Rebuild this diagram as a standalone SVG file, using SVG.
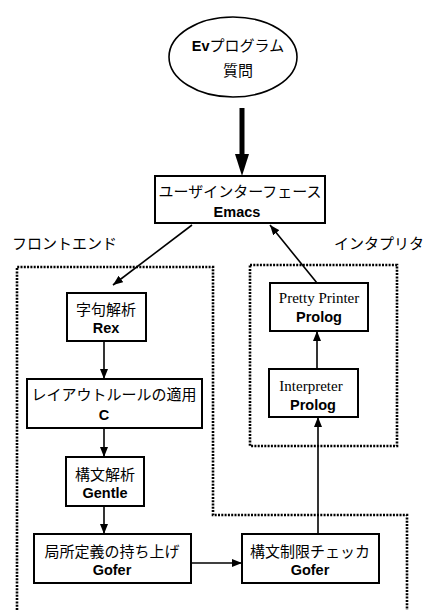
<svg xmlns="http://www.w3.org/2000/svg" width="433" height="610" viewBox="0 0 433 610">
<defs>
<marker id="ah" viewBox="0 0 10 8" refX="10" refY="4" markerWidth="10" markerHeight="8" markerUnits="userSpaceOnUse" orient="auto">
<path d="M0,0 L10,4 L0,8 Z" fill="#000"/>
</marker>
<style>
.box{fill:#fff;stroke:#000;stroke-width:2}
.ln{fill:none;stroke:#000;stroke-width:1.6}
.dot{fill:none;stroke:#000;stroke-width:2.6;stroke-dasharray:2 1.3}
.jp{font-family:"Noto Sans CJK JP","Noto Sans",sans-serif;font-size:15px;fill:#000}
.en{font-family:"Liberation Sans",Arial,sans-serif;font-weight:bold;font-size:14.5px;fill:#000}
.tm{font-family:"Liberation Serif","Times New Roman",serif;font-size:15px;fill:#000}
</style>
</defs>
<g id="regions">
<path class="dot" d="M17,610 V267 H213 V515 H407 V610"/>
<rect class="dot" x="250" y="265" width="147" height="181"/>
<text class="jp" x="12" y="249">フロントエンド</text>
<text class="jp" x="334" y="249">インタプリタ</text>
</g>
<g id="connectors">
<line x1="242" y1="108" x2="242" y2="156" stroke="#000" stroke-width="5"/>
<path d="M235,154 L249,154 L242,176 Z" fill="#000"/>
<line class="ln" x1="192" y1="225" x2="113" y2="285" marker-end="url(#ah)"/>
<line class="ln" x1="317" y1="283" x2="270" y2="225" marker-end="url(#ah)"/>
<line class="ln" x1="317" y1="369" x2="317" y2="331" marker-end="url(#ah)"/>
<line class="ln" x1="104" y1="341" x2="104" y2="379" marker-end="url(#ah)"/>
<line class="ln" x1="104" y1="428" x2="104" y2="457" marker-end="url(#ah)"/>
<line class="ln" x1="104" y1="506" x2="104" y2="534" marker-end="url(#ah)"/>
<line class="ln" x1="191" y1="563" x2="242" y2="563" marker-end="url(#ah)"/>
<line class="ln" x1="318" y1="534" x2="318" y2="417" marker-end="url(#ah)"/>
</g>
<g id="query">
<ellipse cx="233" cy="57" rx="64" ry="40" fill="#fff" stroke="#000" stroke-width="1.6"/>
<text x="238" y="51" text-anchor="middle"><tspan class="en" font-size="15">Ev</tspan><tspan class="jp">プログラム</tspan></text>
<text class="jp" x="238" y="76" text-anchor="middle">質問</text>
</g>
<g id="emacs">
<rect class="box" x="155" y="176" width="170" height="47"/>
<text class="jp" x="240" y="197" text-anchor="middle">ユーザインターフェース</text>
<text class="en" x="237" y="217" text-anchor="middle">Emacs</text>
</g>
<g id="pretty">
<rect class="box" x="270" y="283" width="98" height="48"/>
<text class="tm" x="319" y="303" text-anchor="middle">Pretty Printer</text>
<text class="en" x="319" y="322" text-anchor="middle">Prolog</text>
</g>
<g id="interp">
<rect class="box" x="269" y="369" width="89" height="48"/>
<text class="tm" x="311" y="391" text-anchor="middle">Interpreter</text>
<text class="en" x="313" y="410" text-anchor="middle">Prolog</text>
</g>
<g id="rex">
<rect class="box" x="67" y="293" width="79" height="48"/>
<text class="jp" x="106" y="315" text-anchor="middle">字句解析</text>
<text class="en" x="106" y="333" text-anchor="middle">Rex</text>
</g>
<g id="layout">
<rect class="box" x="27" y="379" width="175" height="49"/>
<text class="jp" x="114" y="400" text-anchor="middle">レイアウトルールの適用</text>
<text class="en" x="104" y="420" text-anchor="middle">C</text>
</g>
<g id="gentle">
<rect class="box" x="66" y="457" width="78" height="49"/>
<text class="jp" x="105" y="480" text-anchor="middle">構文解析</text>
<text class="en" x="105" y="498" text-anchor="middle">Gentle</text>
</g>
<g id="lift">
<rect class="box" x="34" y="534" width="157" height="49"/>
<text class="jp" x="112" y="557" text-anchor="middle">局所定義の持ち上げ</text>
<text class="en" x="112" y="575" text-anchor="middle">Gofer</text>
</g>
<g id="check">
<rect class="box" x="242" y="534" width="137" height="49"/>
<text class="jp" x="310" y="557" text-anchor="middle">構文制限チェッカ</text>
<text class="en" x="310" y="575" text-anchor="middle">Gofer</text>
</g>
</svg>
